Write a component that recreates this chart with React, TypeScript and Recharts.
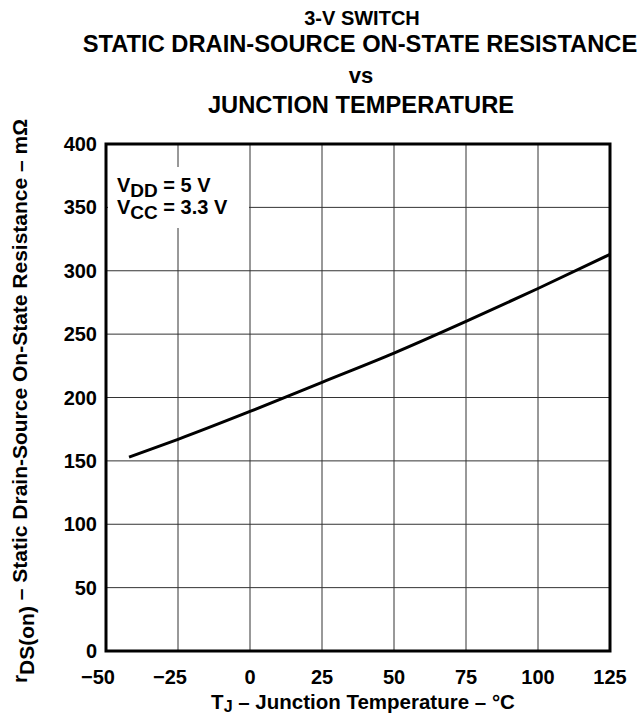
import React from "react"
import {
  LineChart,
  Line,
  XAxis,
  YAxis,
  CartesianGrid,
  ReferenceArea,
} from "recharts"

const FONT = "'Liberation Sans', Arial, Helvetica, sans-serif"

// junction temperature (°C) and on-state resistance (mΩ)
const tempC = [-42, -25, 0, 25, 50, 75, 100, 125]
const rdsOn = [153, 167, 189, 212, 235, 260, 286, 313]

const xTicks = [-50, -25, 0, 25, 50, 75, 100, 125]
const yTicks = [0, 50, 100, 150, 200, 250, 300, 350, 400]

const titleLines = ["3-V SWITCH", "STATIC DRAIN-SOURCE ON-STATE RESISTANCE", "vs", "JUNCTION TEMPERATURE"]

const data = tempC.map((t, i) => ({ t, r: rdsOn[i] }))

function XTick({ x, y, payload }: any) {
  const v = payload.value as number
  const label = v < 0 ? "\u2212" + Math.abs(v) : String(v)
  return (
    <text
      x={x + (v < 0 ? -8 : 0)}
      y={y}
      dy="0.71em"
      textAnchor="middle"
      fontFamily={FONT}
      fontWeight={700}
      fontSize={20}
      fill="#000"
    >
      {label}
    </text>
  )
}

export default function App() {
  const txt = { fontFamily: FONT, fontWeight: 700, fill: "#000" }
  return (
    <div style={{ position: "absolute", left: 0, top: 0, width: 644, height: 719, background: "#fff" }}>
      <LineChart width={644} height={719} data={data} margin={{ top: 144, right: 34, left: 0, bottom: 0 }}>
        <CartesianGrid stroke="#333" strokeWidth={1} />
        <XAxis
          type="number"
          dataKey="t"
          domain={[-50, 125]}
          ticks={xTicks}
          height={68}
          axisLine={false}
          tickLine={false}
          tickSize={0}
          tickMargin={19}
          tick={<XTick />}
          interval={0}
        />
        <YAxis
          type="number"
          domain={[0, 400]}
          ticks={yTicks}
          width={106}
          axisLine={false}
          tickLine={false}
          tickSize={0}
          tickMargin={9}
          interval={0}
          tick={{ fontSize: 20, fontWeight: 700, fontFamily: FONT, fill: "#000" }}
        />
        <ReferenceArea x1={-50} x2={125} y1={0} y2={400} fill="none" stroke="#000" strokeWidth={3} />
        <Line
          type="monotone"
          dataKey="r"
          stroke="#000"
          strokeWidth={3}
          dot={false}
          isAnimationActive={false}
        />
      </LineChart>

      <svg width={644} height={719} style={{ position: "absolute", left: 0, top: 0, pointerEvents: "none" }}>
        <text x={362} y={25} textAnchor="middle" fontSize={20} {...txt}>{titleLines[0]}</text>
        <text x={360} y={52} textAnchor="middle" fontSize={23.7} {...txt}>{titleLines[1]}</text>
        <text x={361} y={83} textAnchor="middle" fontSize={22} {...txt}>{titleLines[2]}</text>
        <text x={361} y={113} textAnchor="middle" fontSize={23.7} {...txt}>{titleLines[3]}</text>

        <rect x={108} y={167} width={141} height={61} fill="#fff" />
        <text x={117} y={192} fontSize={20} {...txt}>
          V<tspan dy={5} fontSize={19}>DD</tspan><tspan dy={-5}> = 5 V</tspan>
        </text>
        <text x={117} y={214} fontSize={20} {...txt}>
          V<tspan dy={5} fontSize={19}>CC</tspan><tspan dy={-5}> = 3.3 V</tspan>
        </text>

        <text x={363} y={709} textAnchor="middle" fontSize={20.5} {...txt}>
          T<tspan dy={3} fontSize={16}>J</tspan><tspan dy={-3}> – Junction Temperature – °C</tspan>
        </text>

        <text
          transform="translate(27,401) rotate(-90)"
          x={0}
          y={0}
          textAnchor="middle"
          fontSize={21}
          {...txt}
        >
          r<tspan dy={7}>DS(on)</tspan><tspan dy={-7}> – Static Drain-Source On-State Resistance – mΩ</tspan>
        </text>
      </svg>
    </div>
  )
}
